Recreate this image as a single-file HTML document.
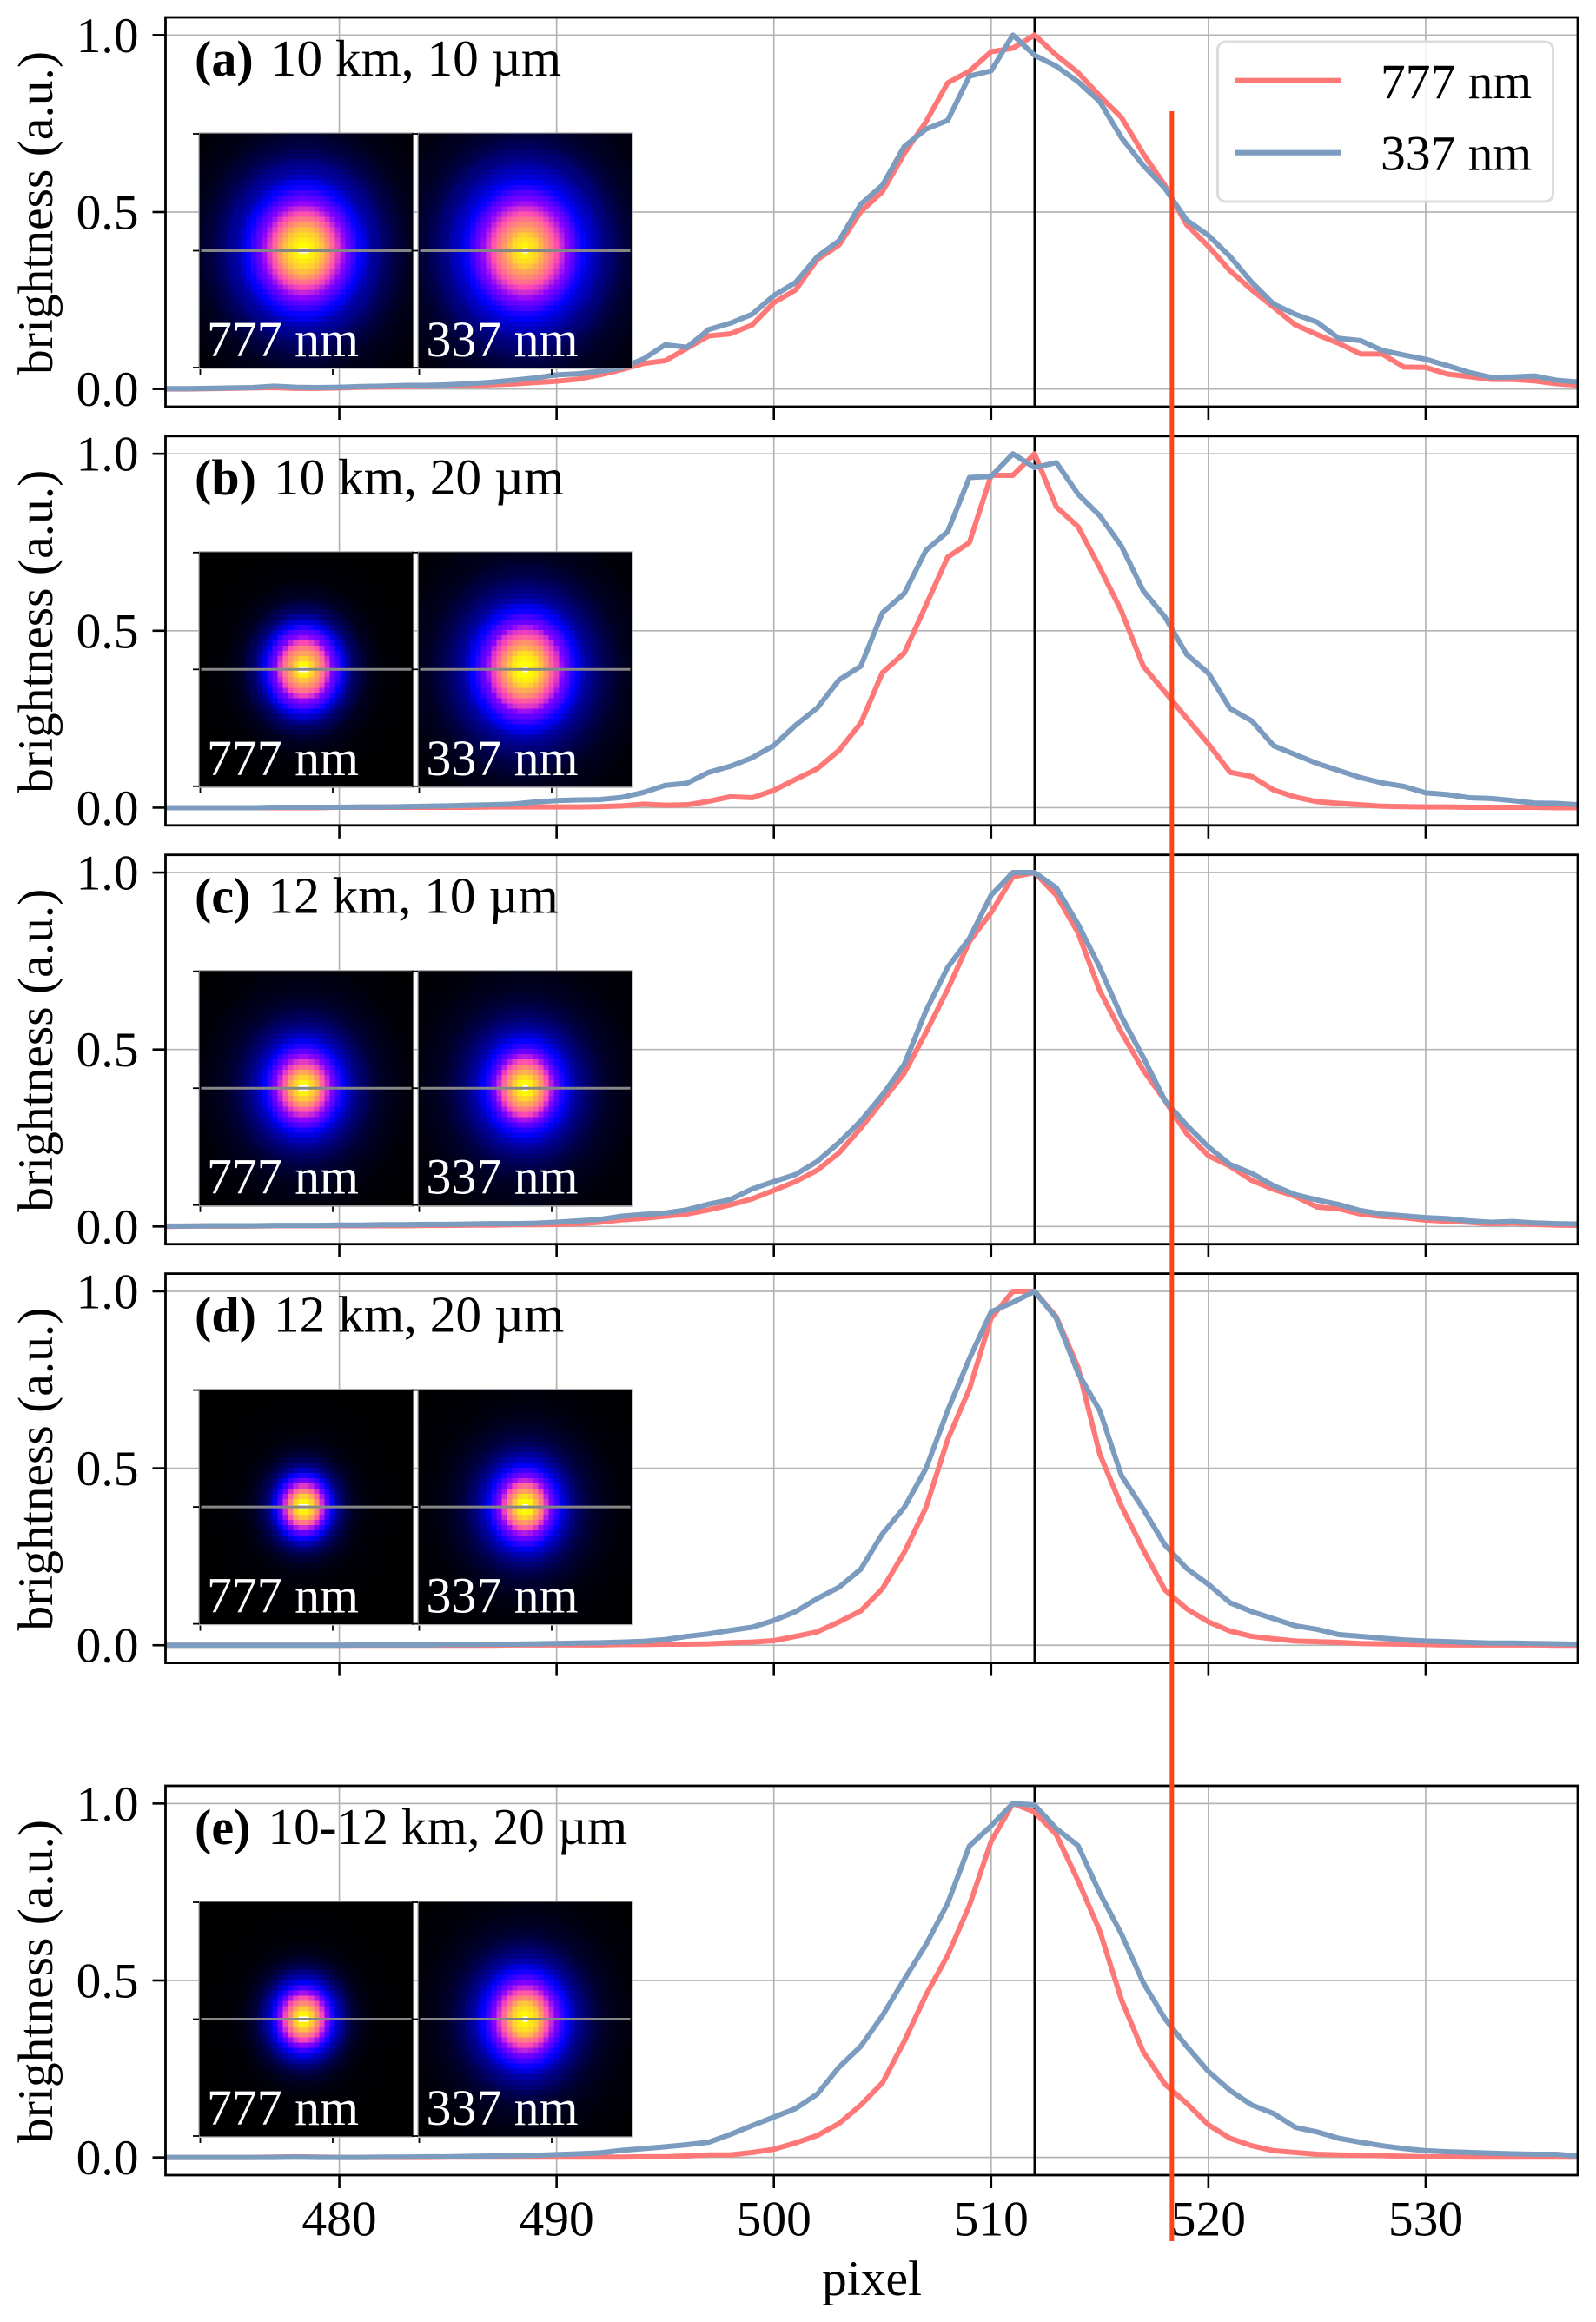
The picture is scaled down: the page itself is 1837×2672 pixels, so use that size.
<!DOCTYPE html>
<html lang="en">
<head>
<meta charset="utf-8">
<title>Brightness profiles at 777 nm and 337 nm</title>
<style>
html,body{margin:0;padding:0;background:#fff;}
svg{display:block;font-family:"Liberation Serif",serif;}
text{fill:#000;}
</style>
</head>
<body>
<svg id="figure" xmlns="http://www.w3.org/2000/svg" width="1837" height="2672" viewBox="0 0 1837 2672">
<rect x="0" y="0" width="1837" height="2672" fill="#fff"/>
<g id="panels"></g>
<text x="1003.5" y="2641" font-size="57.5" text-anchor="middle">pixel</text>
<g id="overlay"></g>
</svg>
<script>
// ---------- chart data ----------
const pixels = [472,473,474,475,476,477,478,479,480,481,482,483,484,485,486,487,488,489,490,491,492,493,494,495,496,497,498,499,500,501,502,503,504,505,506,507,508,509,510,511,512,513,514,515,516,517,518,519,520,521,522,523,524,525,526,527,528,529,530,531,532,533,534,535,536,537];

const panelA777 = [0,0,.001,.002,.003,.004,.002,.002,.003,.005,
.006,.007,.008,.009,.010,.012,.014,.018,.022,.028,
.040,.055,.072,.080,.115,.150,.156,.181,.244,.280,
.366,.407,.501,.558,.665,.755,.865,.898,.953,.963,
1,.943,.894,.828,.767,.665,.575,.464,.403,.334,
.280,.231,.181,.154,.129,.099,.099,.062,.061,.042,
.035,.027,.027,.023,.015,.011];
const panelA337 = [.001,.001,.002,.003,.004,.008,.005,.004,.005,.007,
.008,.010,.010,.012,.015,.019,.025,.031,.040,.043,
.050,.060,.085,.125,.118,.168,.186,.211,.264,.301,
.374,.419,.522,.576,.685,.734,.759,.884,.899,1,
.943,.912,.868,.812,.710,.632,.567,.477,.434,.374,
.301,.240,.211,.189,.143,.137,.109,.096,.084,.066,
.047,.033,.034,.037,.025,.020];

const panelB777 = [0,0,0,0,0,0,0,0,.001,.001,
.001,.001,.001,.001,.001,.002,.002,.002,.002,.002,
.003,.005,.010,.007,.008,.018,.031,.028,.049,.080,
.110,.162,.239,.382,.437,.572,.708,.749,.939,.939,
1,.850,.794,.678,.555,.400,.327,.253,.180,.100,
.088,.050,.030,.017,.012,.008,.004,.003,.002,.002,
.001,.001,.001,.001,0,0];
const panelB337 = [0,0,0,0,0,.001,.001,.001,.001,.002,
.002,.003,.004,.005,.007,.008,.010,.016,.020,.022,
.023,.029,.043,.063,.069,.100,.117,.141,.176,.233,
.282,.361,.400,.551,.605,.727,.780,.933,.936,1,
.961,.975,.886,.825,.739,.613,.539,.433,.380,.280,
.245,.175,.150,.125,.105,.085,.070,.060,.042,.037,
.028,.026,.020,.013,.012,.008];

const panelC777 = [0,.001,.001,.001,.001,.002,.002,.002,.002,.002,
.002,.002,.003,.003,.004,.004,.005,.005,.006,.008,
.012,.019,.023,.029,.035,.047,.061,.078,.102,.127,
.159,.208,.278,.355,.433,.548,.670,.805,.887,.988,
1,.936,.830,.666,.548,.442,.356,.262,.200,.170,
.130,.105,.085,.055,.050,.035,.028,.025,.018,.015,
.012,.008,.010,.006,.004,.003];
const panelC337 = [.001,.001,.002,.002,.002,.003,.003,.003,.004,.004,
.005,.005,.006,.006,.007,.008,.008,.009,.012,.016,
.020,.029,.034,.038,.047,.063,.076,.106,.127,.147,
.184,.237,.298,.372,.458,.609,.732,.814,.936,1,
1,.957,.854,.732,.593,.478,.356,.286,.225,.175,
.150,.115,.090,.075,.062,.045,.035,.030,.025,.022,
.016,.012,.014,.010,.008,.007];

const panelD777 = [0,0,0,0,0,0,0,0,0,0,
0,0,0,0,0,0,.001,.001,.001,.001,
.001,.002,.002,.003,.003,.004,.007,.009,.013,.025,
.038,.066,.097,.160,.262,.389,.581,.724,.924,1,
1,.928,.785,.540,.393,.270,.156,.103,.066,.040,
.025,.018,.012,.010,.008,.005,.004,.003,.002,.001,
.001,.001,.001,.001,0,0];
const panelD337 = [0,0,0,0,0,0,0,0,0,.001,
.001,.001,.001,.002,.002,.003,.003,.004,.005,.006,
.007,.009,.011,.016,.025,.032,.042,.051,.070,.095,
.132,.164,.215,.315,.389,.499,.663,.810,.942,.969,
1,.924,.769,.663,.479,.385,.283,.217,.172,.120,
.095,.075,.055,.045,.030,.025,.020,.015,.012,.010,
.008,.006,.006,.005,.004,.003];

const panelE777 = [0,0,0,0,0,.001,.002,.001,0,0,
0,0,0,.001,.001,.001,.001,.001,.001,.001,
.001,.001,.002,.002,.004,.007,.007,.014,.023,.041,
.062,.096,.148,.211,.328,.459,.571,.712,.893,1,
.976,.912,.782,.640,.445,.299,.207,.153,.092,.054,
.033,.019,.014,.009,.007,.006,.005,.003,.002,.002,
.001,.001,.001,.001,.001,.001];
const panelE337 = [0,0,0,0,0,0,.001,0,0,0,
.001,.001,.002,.002,.003,.004,.005,.006,.008,.010,
.013,.020,.025,.030,.036,.043,.065,.090,.114,.138,
.179,.255,.314,.401,.503,.601,.718,.880,.937,1,
.996,.929,.881,.747,.631,.494,.392,.314,.243,.189,
.148,.124,.085,.072,.054,.043,.033,.025,.019,.016,
.014,.012,.010,.009,.009,.004];

const xTickValues = [480,490,500,510,520,530];
const xTickLabels = ['480','490','500','510','520','530'];
const yTickValues = [0,0.5,1];
const yTickLabels = ['0.0','0.5','1.0'];
const panelLetters = ['(a)','(b)','(c)','(d)','(e)'];
const panelCaptions = ['10 km, 10 µm','10 km, 20 µm','12 km, 10 µm','12 km, 20 µm','10-12 km, 20 µm'];
const seriesNames = ['777 nm','337 nm'];
const series777 = [panelA777,panelB777,panelC777,panelD777,panelE777];
const series337 = [panelA337,panelB337,panelC337,panelD337,panelE337];
const peakMarkerPixel = 512;
const cutMarkerPixel = 518.32;

// ---------- layout ----------
const NS = 'http://www.w3.org/2000/svg';
const AX = {left:190.5, right:1816, height:448, xMin:472, xMax:537, yMin:-0.05, yMax:1.05};
const PANEL_TOP = [20,501.8,983.7,1465.6,2055];
const C_RED = '#ff7878';
const C_BLUE = '#7b9bbf';
const INSET = {cols:41, rows:45, y:133, w:247, h:271, stretch:1.15, cy:135};
const INSET_IMAGES = [{x:229, cx:120.5},{x:481, cx:123}];

const xPos = v => AX.left + (v - AX.xMin) / (AX.xMax - AX.xMin) * (AX.right - AX.left);
const yPos = (top, v) => top + (AX.yMax - v) / (AX.yMax - AX.yMin) * AX.height;

function mk(tag, attrs, parent, text) {
  const el = document.createElementNS(NS, tag);
  for (const k in attrs) el.setAttribute(k, attrs[k]);
  if (text !== undefined) el.textContent = text;
  parent.appendChild(el);
  return el;
}

// matplotlib "gnuplot2" colour map
function gnuplot2(x) {
  const c = t => Math.round(255 * Math.max(0, Math.min(1, t)));
  const r = x / 0.32 - 0.78125;
  const g = 2 * x - 0.84;
  const b = x < 0.25 ? 4 * x : (x < 0.92 ? -2 * x + 1.84 : x / 0.08 - 11.5);
  return 'rgb(' + c(r) + ',' + c(g) + ',' + c(b) + ')';
}

// Radial brightness profile taken from the plotted series itself
function sampleSeries(vals, p) {
  const lo = Math.max(0, Math.min(vals.length - 1, Math.floor(p - pixels[0])));
  const hi = Math.min(vals.length - 1, lo + 1);
  const f = Math.max(0, Math.min(1, p - pixels[0] - lo));
  return vals[lo] * (1 - f) + vals[hi] * f;
}
function centroid(vals) {
  let s = 0, w = 0;
  vals.forEach((v, i) => { const q = v * v; s += q * pixels[i]; w += q; });
  return s / w;
}

function drawPanel(i) {
  const top = PANEL_TOP[i];
  const bottom = top + AX.height;
  const root = document.getElementById('panels');

  const g = mk('g', {}, root);
  
  

  // grid
  const grid = mk('g', {stroke:'#b4b4b4','stroke-width':1.7}, g);
  
  
  xTickValues.forEach(v => {
    const ln = mk('line', {x1:xPos(v), x2:xPos(v), y1:top, y2:bottom}, grid);
    
    
  });
  yTickValues.forEach(v => {
    const ln = mk('line', {x1:AX.left, x2:AX.right, y1:yPos(top, v), y2:yPos(top, v)}, grid);
    
    
  });

  // black marker at the peak pixel
  const peak = mk('line', {x1:xPos(peakMarkerPixel), x2:xPos(peakMarkerPixel), y1:top, y2:bottom, stroke:'#000','stroke-width':2.6}, g);
  
  

  // series
  [[series777[i], C_RED, 'series-777-nm'], [series337[i], C_BLUE, 'series-337-nm']].forEach(item => {
    const pts = item[0].map((v, k) => xPos(pixels[k]).toFixed(2) + ',' + yPos(top, v).toFixed(2)).join(' ');
    const pl = mk('polyline', {points:pts, fill:'none', stroke:item[1], 'stroke-width':6, 'stroke-linejoin':'round'}, g);
    
    
  });

  // inset images
  [series777[i], series337[i]].forEach((vals, j) => {
    const im = INSET_IMAGES[j];
    const inset = mk('g', {}, g);
    
    
    const iy = top + INSET.y;
    const cw = INSET.w / INSET.cols, ch = INSET.h / INSET.rows;
    const c0 = centroid(vals);
    let peakV = 0;
    for (let r = 0; r <= 3; r += 0.5) {
      peakV = Math.max(peakV, (sampleSeries(vals, c0 - r) + sampleSeries(vals, c0 + r)) / 2);
    }
    const cells = mk('g', {'shape-rendering':'crispEdges'}, inset);
    
    
    for (let row = 0; row < INSET.rows; row++) {
      for (let col = 0; col < INSET.cols; col++) {
        const dx = ((col + 0.5) * cw - im.cx) / cw;
        const dy = ((row + 0.5) * ch - INSET.cy) / ch / INSET.stretch;
        const rad = Math.sqrt(dx * dx + dy * dy);
        const raw = (sampleSeries(vals, c0 - rad) + sampleSeries(vals, c0 + rad)) / 2 / peakV;
        const val = rad < 0.8 ? 1 : raw * 0.93;
        const cell = mk('rect', {x:(im.x + col * cw).toFixed(2), y:(iy + row * ch).toFixed(2), width:(cw + 0.6).toFixed(2), height:(ch + 0.6).toFixed(2), fill:gnuplot2(val)}, cells);
        
        
      }
    }
    const frame = mk('rect', {x:im.x, y:iy, width:INSET.w, height:INSET.h, fill:'none', stroke:'#a8a8a8', 'stroke-width':1.2}, inset);
    
    
    const cut = mk('line', {x1:im.x + 2.5, x2:im.x + INSET.w - 2.5, y1:iy + 135.5, y2:iy + 135.5, stroke:'#868686', 'stroke-width':3}, inset);
    
    
    [1, 135.5, 270].forEach(dy => {
      const t = mk('line', {x1:im.x - 7, x2:im.x, y1:iy + dy, y2:iy + dy, stroke:'#000', 'stroke-width':1.8}, inset);
      
      
    });
    [1.5, 154].forEach(dx => {
      const t = mk('line', {x1:im.x + dx, x2:im.x + dx, y1:iy + 272, y2:iy + 278, stroke:'#000', 'stroke-width':1.8}, inset);
      
      
    });
    const lab = mk('text', {x:im.x + (j ? 9.5 : 9), y:top + 390, 'font-size':57.8, style:'fill:#fff'}, inset, seriesNames[j]);
    
    
  });

  // frame
  const spine = mk('rect', {x:AX.left, y:top, width:AX.right - AX.left, height:AX.height, fill:'none', stroke:'#000', 'stroke-width':2.8}, g);
  
  

  // ticks
  xTickValues.forEach((v, k) => {
    const t = mk('line', {x1:xPos(v), x2:xPos(v), y1:bottom, y2:bottom + 15, stroke:'#000', 'stroke-width':2.6}, g);
    
    
    if (i === 4) {
      const tl = mk('text', {x:xPos(v), y:bottom + 69.5, 'font-size':57.5, 'text-anchor':'middle'}, g, xTickLabels[k]);
      
      
    }
  });
  yTickValues.forEach((v, k) => {
    const t = mk('line', {x1:AX.left - 15, x2:AX.left, y1:yPos(top, v), y2:yPos(top, v), stroke:'#000', 'stroke-width':2.6}, g);
    
    
    const tl = mk('text', {x:159.5, y:yPos(top, v) + 19.5, 'font-size':57.5, 'text-anchor':'end'}, g, yTickLabels[k]);
    
    
  });

  // y-axis title
  const cy = top + AX.height / 2 + 1;
  const yt = mk('text', {x:60, y:cy, 'font-size':57.5, 'text-anchor':'middle', transform:'rotate(-90 60 ' + cy + ')'}, g, 'brightness (a.u.)');
  
  

  // panel title
  const title = mk('text', {x:224, y:top + 67, 'font-size':58}, g);
  
  
  const b = mk('tspan', {'font-weight':'bold'}, title, panelLetters[i]);
  
  
  const c = mk('tspan', {dx:20, 'font-size':59.4}, title, panelCaptions[i]);
  
  

  // legend only in first panel
  if (i === 0) {
    const lg = mk('g', {}, g);
    
    
    const box = mk('rect', {x:1401.5, y:48, width:386, height:184, rx:9, ry:9, fill:'#fff', 'fill-opacity':0.82, stroke:'#dcdcdc', 'stroke-width':3}, lg);
    
    
    [[C_RED, 92.7, 113], [C_BLUE, 175.7, 195.7]].forEach((e, k) => {
      const s = mk('line', {x1:1421, x2:1544, y1:e[1], y2:e[1], stroke:e[0], 'stroke-width':6.2}, lg);
      
      
      const t = mk('text', {x:1589, y:e[2], 'font-size':57.5}, lg, seriesNames[k]);
      
      
    });
  }
}

PANEL_TOP.forEach((_, i) => drawPanel(i));

// long orange-red vertical marker crossing the panels
const overlay = document.getElementById('overlay');
const redMarker = mk('line', {x1:xPos(cutMarkerPixel), x2:xPos(cutMarkerPixel), y1:128, y2:2579, stroke:'#ff4318', 'stroke-width':5}, overlay);


</script>
</body>
</html>
